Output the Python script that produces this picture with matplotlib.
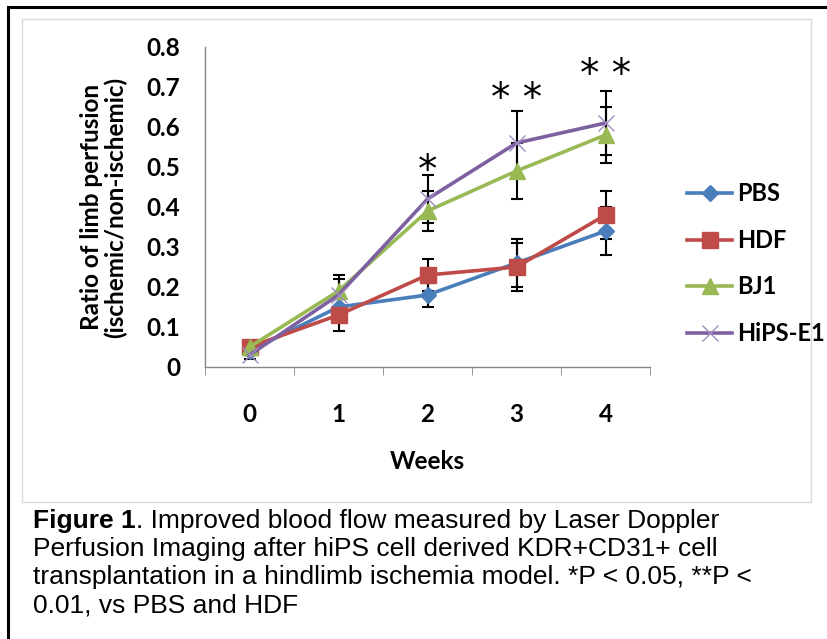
import matplotlib.pyplot as plt
from matplotlib.patches import Rectangle
from matplotlib.lines import Line2D

weeks = [0, 1, 2, 3, 4]
week_labels = ["0", "1", "2", "3", "4"]

pbs = [0.04, 0.15, 0.18, 0.26, 0.34]
hdf = [0.05, 0.13, 0.23, 0.25, 0.38]
bj1 = [0.05, 0.19, 0.39, 0.49, 0.58]
hips = [0.03, 0.18, 0.42, 0.56, 0.61]

pbs_err = [0.01, 0.02, 0.03, 0.06, 0.06]
hdf_err = [0.01, 0.04, 0.04, 0.06, 0.06]
bj1_err = [0.01, 0.04, 0.05, 0.07, 0.07]
hips_err = [0.01, 0.04, 0.06, 0.08, 0.08]

sig_weeks = [2, 3, 4]
sig_labels = ["*", "* *", "* *"]
sig_heights = [0.49, 0.67, 0.73]

yticks = [0, 0.1, 0.2, 0.3, 0.4, 0.5, 0.6, 0.7, 0.8]
ytick_labels = ["0", "0.1", "0.2", "0.3", "0.4", "0.5", "0.6", "0.7", "0.8"]

W, H = 827, 639
fs = 17.5
bold = {"fontsize": fs, "fontweight": "bold", "family": "Lato"}

fig = plt.figure(figsize=(W / 100, H / 100), dpi=100)

# outer black frame and inner grey chart frame
fig.add_artist(Rectangle((8 / W, -0.1), 1.2, 1 - 7 / H + 0.1, transform=fig.transFigure,
                         fill=False, edgecolor="black", lw=2.2))
fig.add_artist(Rectangle((22 / W, 1 - 502 / H), (811 - 22) / W, (502 - 19) / H,
                         transform=fig.transFigure, fill=False, edgecolor="#d9d9d9", lw=1))

ax = fig.add_axes([205 / W, 1 - 367 / H, 445 / W, 320 / H])

series = [
    ("PBS", pbs, pbs_err, "#4a7ebb", "D", 8, None),
    ("HDF", hdf, hdf_err, "#be4b48", "s", 11, None),
    ("BJ1", bj1, bj1_err, "#98b954", "^", 11, None),
    ("HiPS-E1", hips, hips_err, "#7d60a0", "x", 12, "#a08cc0"),
]

handles = []
for name, vals, errs, color, mk, ms, edge in series:
    ax.errorbar(weeks, vals, yerr=errs, fmt="none", ecolor="black", elinewidth=1.5,
                capsize=4, capthick=1.5, zorder=2)
    style = dict(color=color, lw=2.6, marker=mk, markersize=ms, markerfacecolor=color,
                 markeredgecolor=edge or color, markeredgewidth=1)
    ax.plot(weeks, vals, zorder=3, **style)
    handles.append(Line2D([0], [0], label=name, **style))

for w, lab, h in zip(sig_weeks, sig_labels, sig_heights):
    ax.text(w, h, lab, ha="center", va="center", fontsize=28, family="DejaVu Sans")

ax.set_xlim(-0.5, 4.5)
ax.set_ylim(0, 0.8)
for s in ["top", "right"]:
    ax.spines[s].set_visible(False)
for s in ["left", "bottom"]:
    ax.spines[s].set_color("#868686")
    ax.spines[s].set_linewidth(1)

ax.set_yticks(yticks)
ax.set_yticklabels(ytick_labels, **bold)
ax.tick_params(axis="y", length=0, pad=18)
ax.set_xticks(weeks)
ax.set_xticklabels(week_labels, **bold)
ax.set_xticks([-0.5, 0.5, 1.5, 2.5, 3.5, 4.5], minor=True)
ax.tick_params(axis="x", which="major", length=0, pad=26)
ax.tick_params(axis="x", which="minor", length=6, color="#868686", direction="out")

ax.set_xlabel("Weeks", labelpad=17, **bold)
ax.set_ylabel("Ratio of limb perfusion\n(ischemic/non-ischemic)", labelpad=14,
              linespacing=1.0, **bold)

fig.legend(handles=handles, loc="upper left", bbox_to_anchor=(666 / W, 1 - 161 / H),
           frameon=False, handlelength=1.9, labelspacing=1.0, handletextpad=0.2,
           prop={"family": "Lato", "weight": "bold", "size": 17})

# caption
cap_size = 19
y0 = 1 - 521 / H
t = fig.text(33 / W, y0, "Figure 1", fontsize=cap_size, fontweight="bold",
             family="Liberation Sans", va="center")
fig.canvas.draw()
bb = t.get_window_extent()
fig.text(bb.x1 / W, y0, ". Improved blood flow measured by Laser Doppler",
         fontsize=cap_size, family="Liberation Sans", va="center")
rest = ["Perfusion Imaging after hiPS cell derived KDR+CD31+ cell",
        "transplantation in a hindlimb ischemia model. *P < 0.05, **P <",
        "0.01, vs PBS and HDF"]
for i, line in enumerate(rest):
    fig.text(33 / W, y0 - (i + 1) * 28 / H, line, fontsize=cap_size,
             family="Liberation Sans", va="center")

fig.savefig("out.png", dpi=100)
